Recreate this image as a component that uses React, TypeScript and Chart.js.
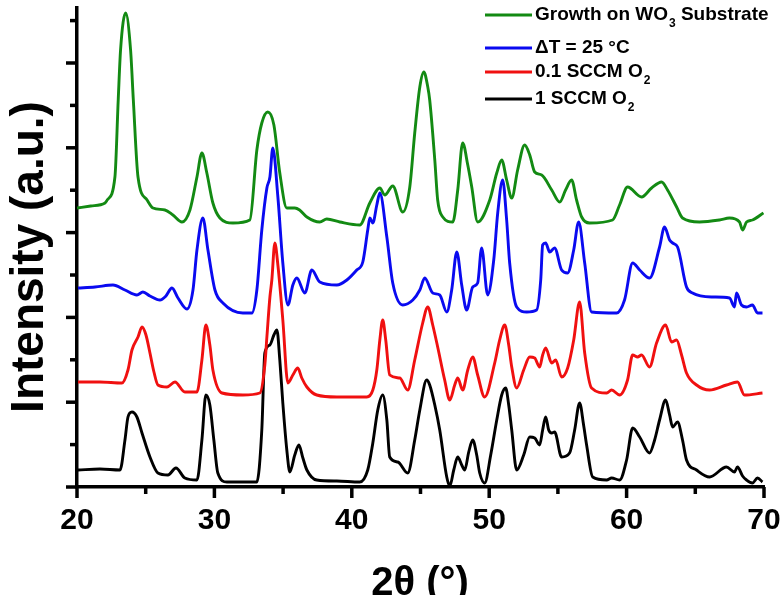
import { useEffect, useRef } from 'react';
import { Chart, registerables } from 'chart.js';

Chart.register(...registerables);

// 2θ positions (degrees) and stacked intensities (a.u., offset per trace)
const wo3Angles = [20.0, 21.0, 22.04, 22.2, 22.76, 23.0, 23.17, 23.54, 23.9, 24.1, 24.44, 25.1, 25.53, 26.4, 26.98, 27.64, 28.22, 28.73, 29.09, 29.45, 29.89, 30.4, 31.35, 32.58, 33.09, 33.45, 33.89, 34.33, 34.76, 35.27, 35.85, 36.2, 36.73, 37.67, 38.18, 39.13, 40.58, 41.31, 42.04, 42.4, 42.98, 43.71, 44.22, 44.58, 44.95, 45.24, 45.53, 45.67, 46.04, 46.25, 46.62, 47.35, 47.71, 48.07, 48.44, 48.73, 49.16, 50.04, 50.55, 50.91, 51.27, 51.64, 52.07, 52.58, 52.95, 53.31, 53.82, 54.55, 55.13, 55.56, 56.0, 56.36, 56.73, 57.31, 58.98, 59.49, 60.07, 61.09, 61.82, 62.55, 62.98, 63.64, 64.07, 65.31, 66.76, 67.49, 68.22, 68.44, 68.73, 69.16, 69.96];
const wo3Counts = [279, 281, 284, 287, 310, 387, 437, 474, 437, 387, 310, 287, 279, 277, 272, 265, 277, 310, 334, 314, 284, 269, 264, 267, 337, 364, 375, 362, 314, 279, 279, 277, 270, 265, 268, 265, 262, 284, 299, 292, 301, 275, 300, 354, 400, 415, 400, 387, 327, 287, 270, 265, 297, 344, 322, 300, 265, 287, 314, 327, 307, 289, 317, 342, 332, 315, 312, 297, 285, 297, 307, 287, 270, 264, 267, 282, 300, 290, 299, 305, 297, 280, 269, 265, 267, 269, 265, 257, 265, 267, 274];

const dT25Angles = [20.07, 21.31, 22.62, 23.49, 24.36, 24.8, 25.31, 26.04, 26.47, 26.91, 27.35, 28.0, 28.44, 28.73, 29.16, 29.53, 30.04, 30.62, 32.07, 32.73, 33.09, 33.45, 33.82, 34.04, 34.25, 34.62, 34.98, 35.35, 35.71, 36.0, 36.58, 37.09, 37.67, 38.91, 39.64, 40.36, 40.8, 41.16, 41.31, 41.53, 41.82, 42.04, 42.55, 42.98, 43.71, 44.44, 44.95, 45.31, 45.89, 46.4, 46.91, 47.27, 47.64, 48.0, 48.36, 48.8, 49.16, 49.45, 49.89, 50.33, 50.62, 50.98, 51.27, 51.49, 52.0, 52.73, 53.45, 53.75, 53.89, 54.11, 54.4, 54.76, 55.27, 55.71, 56.15, 56.51, 56.95, 57.45, 59.27, 59.85, 60.44, 60.95, 61.67, 62.4, 62.76, 63.13, 63.35, 63.71, 64.36, 64.8, 66.25, 67.49, 67.85, 68.0, 68.36, 68.73, 69.16, 69.53, 69.89];
const dT25Counts = [199, 200, 202, 197, 192, 195, 191, 187, 191, 199, 189, 178, 197, 237, 269, 237, 197, 184, 174, 174, 197, 257, 299, 310, 339, 290, 224, 182, 202, 209, 194, 217, 205, 202, 207, 217, 225, 257, 269, 264, 282, 294, 250, 204, 182, 187, 197, 209, 194, 192, 175, 197, 235, 202, 177, 200, 204, 239, 192, 227, 274, 307, 267, 224, 180, 175, 177, 207, 242, 244, 235, 239, 217, 214, 237, 265, 224, 175, 174, 187, 224, 217, 209, 240, 260, 247, 244, 240, 200, 194, 190, 189, 180, 194, 182, 180, 182, 174, 174];

const o2LowAngles = [20.07, 21.67, 23.27, 23.71, 24.0, 24.44, 24.73, 25.02, 25.31, 25.6, 25.89, 26.55, 27.13, 27.85, 28.73, 29.09, 29.38, 29.67, 29.89, 30.55, 32.07, 33.31, 33.67, 33.82, 34.04, 34.18, 34.4, 34.62, 34.98, 35.35, 35.71, 36.07, 36.36, 36.73, 37.45, 38.91, 41.09, 41.53, 41.82, 42.04, 42.25, 42.47, 42.76, 43.49, 44.07, 44.58, 45.16, 45.53, 45.89, 46.25, 46.76, 47.13, 47.49, 47.71, 48.07, 48.44, 48.8, 49.16, 49.67, 50.4, 50.76, 51.13, 51.42, 51.64, 52.0, 52.51, 52.95, 53.31, 53.67, 53.89, 54.11, 54.55, 54.84, 55.27, 55.71, 56.15, 56.58, 56.95, 57.45, 58.55, 58.91, 59.49, 60.07, 60.44, 60.8, 61.09, 61.67, 62.18, 62.84, 63.27, 63.64, 64.0, 64.36, 65.09, 66.04, 67.27, 68.07, 68.58, 69.89];
const o2LowCounts = [105, 105, 104, 117, 137, 150, 160, 152, 134, 115, 102, 100, 105, 95, 95, 127, 162, 142, 117, 94, 92, 94, 122, 150, 190, 207, 244, 222, 167, 104, 112, 119, 109, 100, 92, 90, 90, 97, 117, 147, 167, 147, 112, 109, 97, 127, 164, 180, 162, 140, 107, 87, 102, 109, 97, 117, 130, 112, 90, 124, 147, 162, 142, 120, 99, 117, 130, 129, 120, 132, 139, 124, 127, 110, 119, 147, 185, 134, 99, 94, 97, 92, 107, 132, 130, 132, 120, 144, 162, 145, 147, 132, 114, 102, 97, 102, 105, 92, 94];

const o2HighAngles = [20.07, 21.67, 23.13, 23.49, 23.71, 24.0, 24.36, 24.73, 25.31, 25.89, 26.62, 27.2, 27.85, 28.73, 29.09, 29.38, 29.67, 29.96, 30.25, 30.91, 33.09, 33.45, 33.67, 34.04, 34.33, 34.55, 34.76, 34.98, 35.27, 35.49, 35.85, 36.15, 36.44, 36.73, 37.45, 38.91, 40.58, 41.16, 41.53, 41.89, 42.25, 42.55, 42.76, 43.35, 44.07, 44.58, 44.95, 45.45, 45.67, 46.04, 46.4, 46.91, 47.13, 47.42, 47.71, 48.0, 48.22, 48.51, 48.8, 49.09, 49.31, 49.67, 50.11, 50.55, 50.91, 51.2, 51.42, 51.64, 52.0, 52.51, 52.95, 53.31, 53.67, 53.89, 54.11, 54.33, 54.55, 54.76, 55.27, 55.85, 56.22, 56.58, 56.87, 57.09, 57.53, 58.55, 58.91, 59.49, 60.0, 60.44, 60.95, 61.67, 62.04, 62.4, 62.84, 63.13, 63.35, 63.71, 64.07, 64.36, 65.09, 66.04, 67.27, 67.85, 68.07, 68.44, 68.73, 69.16, 69.53, 69.89];
const o2HighCounts = [17, 18, 17, 47, 70, 75, 70, 54, 30, 14, 12, 19, 9, 7, 47, 92, 82, 47, 14, 5, 5, 57, 134, 142, 152, 157, 127, 84, 37, 15, 32, 42, 29, 17, 7, 6, 5, 17, 44, 77, 92, 67, 30, 25, 14, 47, 77, 107, 102, 82, 57, 10, 1, 17, 30, 22, 17, 35, 47, 32, 14, 4, 32, 67, 92, 99, 82, 57, 17, 32, 50, 49, 42, 57, 70, 57, 54, 55, 30, 34, 57, 84, 62, 42, 10, 7, 9, 7, 27, 59, 50, 34, 47, 67, 87, 72, 60, 65, 47, 27, 17, 10, 20, 15, 20, 11, 7, 4, 9, 5];

const seriesLabels = ['Growth on WO3 Substrate', '\u0394T = 25 \u00b0C', '0.1 SCCM O2', '1 SCCM O2'];
// Legend text split into [main, subscript, tail] pieces
const legendPieces: [string, string, string][] = [
  ['Growth on WO', '3', ' Substrate'],
  ['\u0394T = 25 \u00b0C', '', ''],
  ['0.1 SCCM O', '2', ''],
  ['1 SCCM O', '2', ''],
];
const seriesColors = ['#138a13', '#0a0af0', '#f01010', '#000000'];

const xTitle = '2\u03b8 (\u00b0)';
const yTitle = 'Intensity (a.u.)';
const Y_TICK_STEP = 42.4;
const Y_MAX = 479;

const FONT = '"Liberation Sans", Arial, Helvetica, sans-serif';

function toPoints(xs: number[], ys: number[]) {
  return xs.map((x, i) => ({ x, y: ys[i] }));
}

const decorPlugin = {
  id: 'xrdDecor',
  afterDraw(chart: any) {
    const { ctx, chartArea, scales } = chart;
    const xs = scales.x;
    const ys = scales.y;
    ctx.save();
    ctx.strokeStyle = '#000';
    ctx.lineCap = 'butt';

    // y tick marks (outward, alternating major / minor)
    ctx.lineWidth = 3.5;
    for (let k = 0; k * Y_TICK_STEP <= Y_MAX; k++) {
      const py = ys.getPixelForValue(k * Y_TICK_STEP);
      const len = k % 2 === 0 ? 11 : 7;
      ctx.beginPath();
      ctx.moveTo(chartArea.left, py);
      ctx.lineTo(chartArea.left - len, py);
      ctx.stroke();
    }

    // x tick marks (outward)
    for (const t of xs.ticks) {
      const px = xs.getPixelForValue(t.value);
      const major = t.value % 10 === 0;
      ctx.lineWidth = 3.5;
      ctx.beginPath();
      ctx.moveTo(px, chartArea.bottom);
      ctx.lineTo(px, chartArea.bottom + (major ? 11 : 7));
      ctx.stroke();
    }

    // axis titles
    ctx.fillStyle = '#000';
    ctx.font = `bold 46px ${FONT}`;
    ctx.textAlign = 'center';
    ctx.textBaseline = 'middle';
    ctx.save();
    ctx.translate(30, 257);
    ctx.rotate(-Math.PI / 2);
    ctx.fillText(yTitle, 0, 0);
    ctx.restore();

    ctx.font = `bold 40px ${FONT}`;
    ctx.textBaseline = 'alphabetic';
    ctx.fillText(xTitle, 420, 595);

    // legend
    const rows = [15, 48, 72, 99];
    legendPieces.forEach((p, i) => {
      const y = rows[i];
      ctx.strokeStyle = seriesColors[i];
      ctx.lineWidth = 3;
      ctx.beginPath();
      ctx.moveTo(485, y);
      ctx.lineTo(532, y);
      ctx.stroke();
      ctx.fillStyle = '#000';
      ctx.textAlign = 'left';
      ctx.textBaseline = 'middle';
      ctx.font = `bold 19px ${FONT}`;
      let x = 535;
      ctx.fillText(p[0], x, y);
      x += ctx.measureText(p[0]).width;
      if (p[1]) {
        ctx.font = `bold 12px ${FONT}`;
        ctx.fillText(p[1], x + 1, y + 9);
        x += ctx.measureText(p[1]).width + 1;
      }
      if (p[2]) {
        ctx.font = `bold 19px ${FONT}`;
        ctx.fillText(p[2], x, y);
      }
    });
    ctx.restore();
  },
};

export default function App() {
  const ref = useRef<HTMLCanvasElement>(null);

  useEffect(() => {
    document.body.style.margin = '0';
    const canvas = ref.current;
    if (!canvas) return;
    const sets = [
      toPoints(wo3Angles, wo3Counts),
      toPoints(dT25Angles, dT25Counts),
      toPoints(o2LowAngles, o2LowCounts),
      toPoints(o2HighAngles, o2HighCounts),
    ];
    const chart = new Chart(canvas, {
      type: 'line',
      data: {
        datasets: sets.map((data, i) => ({
          label: seriesLabels[i],
          data,
          borderColor: seriesColors[i],
          borderWidth: 2.9,
          pointRadius: 0,
          fill: false,
          cubicInterpolationMode: 'monotone' as const,
        })),
      },
      options: {
        responsive: false,
        animation: false,
        events: [],
        layout: { padding: { top: 8, right: 18, left: 0, bottom: 0 } },
        plugins: {
          legend: { display: false },
          tooltip: { enabled: false },
        },
        scales: {
          x: {
            type: 'linear',
            min: 20,
            max: 70,
            grid: { display: false, drawTicks: false },
            border: { display: true, color: '#000', width: 3.5 },
            ticks: {
              stepSize: 5,
              padding: 16,
              color: '#000',
              font: { family: FONT, size: 30, weight: 'bold' },
              maxRotation: 0,
              autoSkip: false,
              callback: (v: any) => (Number(v) % 10 === 0 ? String(v) : ''),
            },
            afterFit: (s: any) => {
              s.height = 108;
              s.paddingLeft = 0;
              s.paddingRight = 0;
            },
          },
          y: {
            type: 'linear',
            min: 0,
            max: Y_MAX,
            grid: { display: false, drawTicks: false },
            border: { display: true, color: '#000', width: 3.5 },
            ticks: { display: false },
            afterFit: (s: any) => {
              s.width = 77;
            },
          },
        },
      },
      plugins: [decorPlugin],
    } as any);
    return () => chart.destroy();
  }, []);

  return (
    <div style={{ width: 782, height: 595, position: 'relative', background: '#fff' }}>
      <canvas ref={ref} width={782} height={595} />
    </div>
  );
}
